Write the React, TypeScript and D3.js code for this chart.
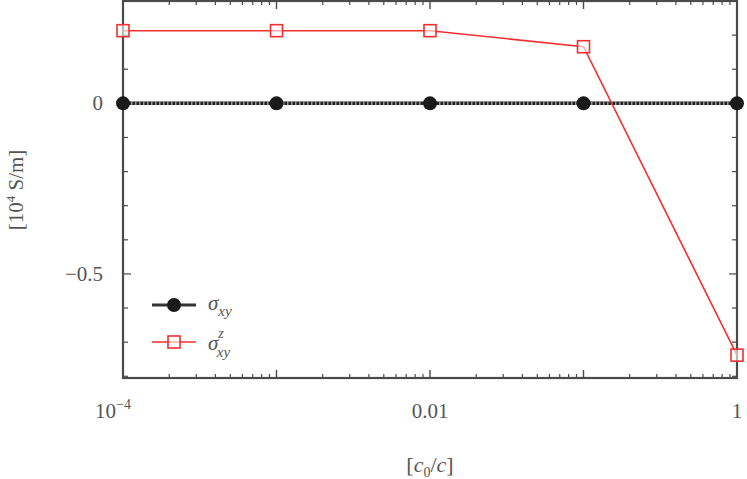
import React, { useEffect, useRef } from 'react';
import * as d3 from 'd3';

// conductivity vs c0/c, log x axis
const xValues = [1e-4, 1e-3, 1e-2, 1e-1, 1];
const sigmaXY = [0, 0, 0, 0, 0];
const sigmaZXY = [0.213, 0.213, 0.213, 0.166, -0.738];
const xTicks = [1e-4, 1e-2, 1];
const xTickLabels = ['10', '0.01', '1'];
const yTicks = [0, -0.5];
const yTickLabels = ['0', '\u22120.5'];

const App = () => {
  const svgRef = useRef<SVGSVGElement>(null);

  useEffect(() => {
    const width = 747;
    const height = 479;
    const svg = d3.select(svgRef.current);
    svg.selectAll('*').remove();

    const x = d3.scaleLog().domain([1e-4, 1]).range([123, 737]);
    const y = d3.scaleLinear().domain([-0.805, 0.3]).range([378, 1]);
    const font = 'Liberation Serif';
    const axisColor = '#4a4a4a';
    const textColor = '#555';

    // minor / major ticks on x (bottom and top)
    const minorX: number[] = [];
    for (let e = -4; e < 0; e++) {
      for (let k = 2; k <= 9; k++) minorX.push(k * Math.pow(10, e));
    }
    const majorX = [1e-4, 1e-3, 1e-2, 1e-1, 1];
    const g = svg.append('g');
    minorX.forEach(v => {
      g.append('line').attr('x1', x(v)).attr('x2', x(v)).attr('y1', y.range()[0]).attr('y2', y.range()[0] - 4)
        .attr('stroke', axisColor).attr('stroke-width', 1.2);
      g.append('line').attr('x1', x(v)).attr('x2', x(v)).attr('y1', y.range()[1]).attr('y2', y.range()[1] + 4)
        .attr('stroke', axisColor).attr('stroke-width', 1.2);
    });
    majorX.forEach(v => {
      g.append('line').attr('x1', x(v)).attr('x2', x(v)).attr('y1', y.range()[0]).attr('y2', y.range()[0] - 8)
        .attr('stroke', axisColor).attr('stroke-width', 1.4);
      g.append('line').attr('x1', x(v)).attr('x2', x(v)).attr('y1', y.range()[1]).attr('y2', y.range()[1] + 8)
        .attr('stroke', axisColor).attr('stroke-width', 1.4);
    });

    // y ticks every 0.1, major every 0.5
    const yT = d3.range(-8, 3).map(i => i / 10);
    yT.forEach(v => {
      const major = Math.abs(v * 2 - Math.round(v * 2)) < 1e-6;
      const len = major ? 8 : 5;
      g.append('line').attr('x1', x.range()[0]).attr('x2', x.range()[0] + len).attr('y1', y(v)).attr('y2', y(v))
        .attr('stroke', axisColor).attr('stroke-width', 1.2);
      g.append('line').attr('x1', x.range()[1]).attr('x2', x.range()[1] - len).attr('y1', y(v)).attr('y2', y(v))
        .attr('stroke', axisColor).attr('stroke-width', 1.2);
    });

    // frame
    g.append('rect')
      .attr('x', x.range()[0]).attr('y', y.range()[1])
      .attr('width', x.range()[1] - x.range()[0]).attr('height', y.range()[0] - y.range()[1])
      .attr('fill', 'none').attr('stroke', axisColor).attr('stroke-width', 2.2);

    // tick labels
    xTicks.forEach((v, i) => {
      const t = svg.append('text').attr('x', x(v)).attr('y', 418).attr('text-anchor', 'middle')
        .attr('font-family', font).attr('font-size', 21).attr('fill', textColor);
      t.append('tspan').text(xTickLabels[i]);
      if (i === 0) {
        t.attr('x', x(v) - 10);
        t.append('tspan').attr('dy', -9).attr('font-size', 14).text('\u22124');
      }
    });
    yTicks.forEach((v, i) => {
      svg.append('text').attr('x', 103).attr('y', y(v) + 7).attr('text-anchor', 'end')
        .attr('font-family', font).attr('font-size', 21).attr('fill', textColor).text(yTickLabels[i]);
    });

    // axis titles
    const xl = svg.append('text').attr('x', 430).attr('y', 472).attr('text-anchor', 'middle')
      .attr('font-family', font).attr('font-size', 22).attr('fill', textColor);
    xl.append('tspan').text('[');
    xl.append('tspan').attr('font-style', 'italic').text('c');
    xl.append('tspan').attr('dy', 5).attr('font-size', 14).text('0');
    xl.append('tspan').attr('dy', -5).text('/');
    xl.append('tspan').attr('font-style', 'italic').text('c');
    xl.append('tspan').text(']');

    const yl = svg.append('text').attr('transform', `translate(23, 190) rotate(-90)`).attr('text-anchor', 'middle')
      .attr('font-family', font).attr('font-size', 21).attr('fill', textColor);
    yl.append('tspan').text('[10');
    yl.append('tspan').attr('dy', -8).attr('font-size', 13).text('4');
    yl.append('tspan').attr('dy', 8).text(' S/m]');

    // sigma_xy line (black)
    const line = d3.line<number>().x((_, i) => x(xValues[i])).y(d => y(d));
    svg.append('path').datum(sigmaXY).attr('d', line).attr('fill', 'none')
      .attr('stroke', '#222').attr('stroke-width', 3.5);
    svg.append('path').datum(sigmaXY).attr('d', line).attr('fill', 'none')
      .attr('stroke', '#999').attr('stroke-width', 3.5).attr('stroke-dasharray', '1.5,2.5');
    svg.selectAll('circle.s1').data(sigmaXY).enter().append('circle')
      .attr('cx', (_, i) => x(xValues[i])).attr('cy', d => y(d)).attr('r', 7).attr('fill', '#1a1a1a');

    // sigma^z_xy line (red)
    svg.append('path').datum(sigmaZXY).attr('d', line).attr('fill', 'none')
      .attr('stroke', '#f03030').attr('stroke-width', 1.6);
    svg.selectAll('rect.s2').data(sigmaZXY).enter().append('rect')
      .attr('x', (_, i) => x(xValues[i]) - 6).attr('y', d => y(d) - 6).attr('width', 12).attr('height', 12)
      .attr('fill', 'white').attr('fill-opacity', 0.6).attr('stroke', '#f03030').attr('stroke-width', 1.6);

    // legend
    const lg = svg.append('g');
    lg.append('line').attr('x1', 152).attr('x2', 196).attr('y1', 305).attr('y2', 305)
      .attr('stroke', '#333').attr('stroke-width', 3);
    lg.append('circle').attr('cx', 174).attr('cy', 305).attr('r', 7).attr('fill', '#1a1a1a');
    const t1 = lg.append('text').attr('x', 208).attr('y', 310).attr('font-family', font).attr('font-size', 21).attr('fill', textColor);
    t1.append('tspan').attr('font-style', 'italic').text('\u03c3');
    t1.append('tspan').attr('dy', 6).attr('font-size', 15).attr('font-style', 'italic').text('xy');

    lg.append('line').attr('x1', 152).attr('x2', 196).attr('y1', 342).attr('y2', 342)
      .attr('stroke', '#f03030').attr('stroke-width', 1.6);
    lg.append('rect').attr('x', 168).attr('y', 336).attr('width', 12).attr('height', 12)
      .attr('fill', 'white').attr('fill-opacity', 0.6).attr('stroke', '#f03030').attr('stroke-width', 1.6);
    const t2 = lg.append('text').attr('x', 208).attr('y', 350).attr('font-family', font).attr('font-size', 21).attr('fill', textColor);
    t2.append('tspan').attr('font-style', 'italic').text('\u03c3');
    t2.append('tspan').attr('dy', -12).attr('font-size', 14).attr('font-style', 'italic').text('z');
    t2.append('tspan').attr('dx', -7).attr('dy', 19).attr('font-size', 15).attr('font-style', 'italic').text('xy');

    svg.attr('width', width).attr('height', height);
  }, []);

  return (
    <svg
      ref={svgRef}
      width="747"
      height="479"
      style={{ position: 'absolute', left: 0, top: 0, background: 'white' }}
    />
  );
};

export default App;
